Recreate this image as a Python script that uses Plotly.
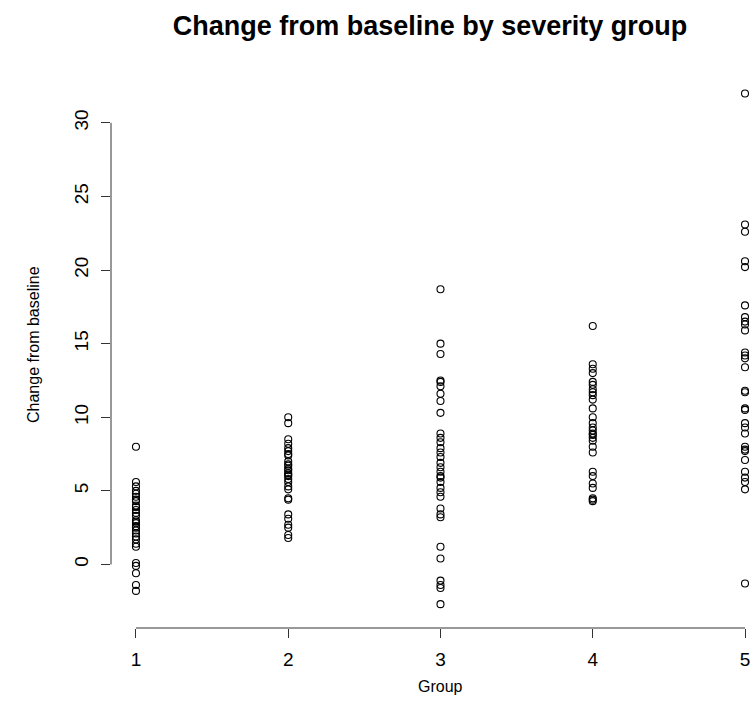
import plotly.graph_objects as go

# ---- data ----
groups = [1, 2, 3, 4, 5]
group1 = [8.0, 5.6, 5.3, 5.0, 4.8, 4.6, 4.4, 4.3, 4.0, 3.9, 3.7, 3.5, 3.3, 3.0, 2.9,
          2.8, 2.6, 2.5, 2.3, 2.1, 1.9, 1.7, 1.4, 1.2, 0.1, -0.1, -0.6, -1.4, -1.8]
group2 = [10.0, 9.6, 8.5, 8.2, 7.9, 7.7, 7.5, 7.4, 7.0, 6.8, 6.7, 6.5, 6.4, 6.2,
          6.1, 6.0, 5.8, 5.6, 5.3, 5.1, 4.5, 4.4, 3.4, 3.1, 2.7, 2.5, 2.0, 1.8]
group3 = [18.7, 15.0, 14.3, 12.5, 12.4, 12.1, 11.6, 11.1, 10.3, 8.9, 8.6, 8.3, 7.9,
          7.6, 7.3, 6.9, 6.6, 6.3, 6.0, 5.9, 5.6, 5.2, 4.9, 4.6, 3.8, 3.4, 3.2,
          1.2, 0.4, -1.1, -1.4, -1.6, -2.7]
group4 = [16.2, 13.6, 13.3, 13.0, 12.4, 12.2, 11.9, 11.7, 11.5, 11.2, 10.6, 10.0,
          9.6, 9.3, 9.1, 8.9, 8.8, 8.6, 8.4, 8.0, 7.6, 6.3, 6.0, 5.5, 5.2, 4.5,
          4.4, 4.3]
group5 = [32.0, 23.1, 22.6, 20.6, 20.2, 17.6, 16.8, 16.5, 16.3, 15.9, 14.4, 14.2,
          14.0, 13.4, 11.8, 11.7, 10.6, 10.5, 9.6, 9.3, 8.9, 8.0, 7.8, 7.7, 7.1,
          6.3, 5.9, 5.6, 5.1, -1.3]
group_values = [group1, group2, group3, group4, group5]

x_ticks = [1, 2, 3, 4, 5]
y_ticks = [0, 5, 10, 15, 20, 25, 30]

title_text = "Change from baseline by severity group"
x_title = "Group"
y_title = "Change from baseline"

# ---- build points ----
xs, ys = [], []
for g, vals in zip(groups, group_values):
    xs.extend([g] * len(vals))
    ys.extend(vals)

FONT = "Liberation Sans, Arial, sans-serif"
AX = "#333333"

W, H = 753, 723
ML, MR, MT, MB = 111, 0, 73, 95
PW, PH = W - ML - MR, H - MT - MB


def px_to_paper_x(px):
    return (px - ML) / PW


def px_to_paper_y(py):
    return (H - MB - py) / PH


fig = go.Figure()
fig.add_trace(go.Scatter(
    x=xs, y=ys, mode="markers",
    marker=dict(symbol="circle-open", size=7, color="black",
                line=dict(width=1.1, color="black")),
    cliponaxis=False, showlegend=False, hoverinfo="x+y",
))

fig.update_layout(
    width=W, height=H,
    margin=dict(l=ML, r=MR, t=MT, b=MB, pad=0, autoexpand=False),
    paper_bgcolor="white", plot_bgcolor="white",
    font=dict(family=FONT, size=16, color="black"),
    title=dict(text="<b>" + title_text + "</b>", x=430 / W, xref="container",
               xanchor="center", y=1 - 26 / H, yref="container", yanchor="middle",
               font=dict(family=FONT, size=27, color="black")),
    xaxis=dict(range=[0.836, 5.0525], tickvals=x_ticks, ticktext=[str(t) for t in x_ticks],
               showgrid=False, zeroline=False, showline=False, automargin=False,
               ticks="outside", ticklen=9, tickwidth=1, tickcolor=AX,
               ticklabelstandoff=5, tickfont=dict(size=19, color="black")),
    yaxis=dict(range=[-4.32, 33.39], tickvals=y_ticks, ticktext=[str(t) for t in y_ticks],
               showgrid=False, zeroline=False, showline=False, automargin=False,
               ticks="outside", ticklen=9, tickwidth=1, tickcolor=AX,
               tickangle=-90, ticklabelstandoff=5, tickfont=dict(size=19, color="black")),
)

# axis lines spanning only the tick range (R style)
fig.add_shape(type="line", xref="x", yref="paper", x0=x_ticks[0], x1=x_ticks[-1],
              y0=0, y1=0, line=dict(color=AX, width=1))
fig.add_shape(type="line", xref="paper", yref="y", x0=0, x1=0,
              y0=y_ticks[0], y1=y_ticks[-1], line=dict(color=AX, width=1))

# axis titles
fig.add_annotation(text=x_title, xref="paper", yref="paper",
                   x=px_to_paper_x(440), y=px_to_paper_y(686),
                   xanchor="center", yanchor="middle",
                   showarrow=False, font=dict(family=FONT, size=16, color="black"))
fig.add_annotation(text=y_title, xref="paper", yref="paper",
                   x=px_to_paper_x(33), y=px_to_paper_y(345),
                   xanchor="center", yanchor="middle",
                   textangle=-90, showarrow=False,
                   font=dict(family=FONT, size=16, color="black"))

fig.write_html("out.html", config={"displayModeBar": False},
               post_script="document.body.style.margin='0';document.body.style.overflow='hidden';")
